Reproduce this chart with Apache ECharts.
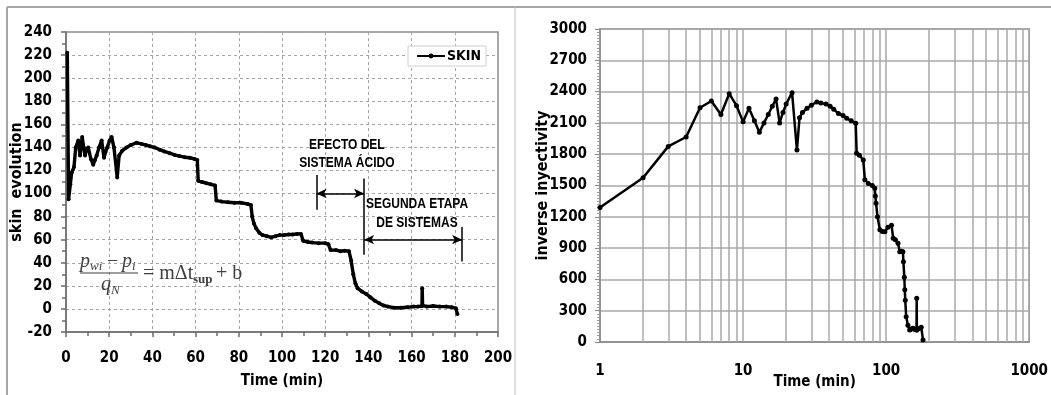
<!DOCTYPE html>
<html>
<head>
<meta charset="utf-8">
<script src="https://cdn.jsdelivr.net/npm/echarts@6/dist/echarts.min.js"></script>
<style>
  html, body { margin: 0; padding: 0; background: #ffffff; }
  #chart { width: 1051px; height: 395px; }
</style>
</head>
<body>
<div id="chart"></div>
<script>
// Skin evolution during the treatment (time in minutes)
const skinTime = [0.6, 1.2, 2, 2.6, 3.7, 4.5, 5.7, 6.5, 7.5, 8.2, 8.8, 9.5, 10.3, 11.5, 12.6, 13.4, 14.2, 15.3, 16.5, 17.6,
  18.3, 19.1, 20.2, 21.1, 22.2, 23.7, 24.6, 26, 28, 30, 32.6, 35, 37, 38.8, 41, 43.4, 45.5, 48, 50.3, 52.5,
  55, 57.3, 59.5, 60.8, 61.2, 63, 65, 67, 69, 69.6, 72, 75, 78, 81, 84, 85.6, 86.2, 87, 88, 89.5,
  91, 93, 95, 97, 99, 101, 103, 105, 107, 108.8, 109.8, 112, 114, 117, 120, 121.5, 122.5, 125, 127, 129,
  131, 132, 133, 134, 135, 137, 139, 141, 143, 145, 147, 149, 152, 155, 158, 161, 163, 164.8, 164.9, 165.1,
  167, 170, 173, 176, 178.5, 180.5, 181.2];
const skinValue = [222, 95, 108, 118, 123, 140, 146, 133, 149, 140, 133, 138, 140, 130, 125, 129, 133, 140, 146, 131,
  136, 140, 146, 149, 140, 114, 133, 137, 140, 142, 144, 143, 142, 141, 140, 138, 136.5, 135, 133.5, 132.5,
  131.5, 131, 130, 129, 111, 110, 109, 108, 107, 94, 93, 92.5, 92, 92, 91, 90, 80, 74, 70, 66,
  64, 63, 62, 63, 64, 64, 64.5, 64.5, 65, 65, 59, 58, 57.5, 57, 57, 56, 51, 51, 50, 50.5,
  50, 42, 30, 22, 18, 15, 13, 10, 7, 5, 3, 2, 1, 1, 1.5, 2, 2, 2.5, 18, 3,
  2, 2.5, 2, 2, 1.5, 0.5, -4.5];

// Inverse injectivity against time (log scale)
const injTime = [1, 2, 3, 4, 5, 6, 7, 8, 9, 10, 11, 12, 13, 14, 15, 16, 17, 18, 19, 20,
  22, 23.8, 24.8, 26, 28, 30, 32.8, 35, 38, 40.6, 43, 46.4, 50, 53, 57, 61.3, 62.2, 65, 69.2, 71,
  75, 80, 83.3, 84, 85, 87, 90.4, 94, 98, 103, 109, 112, 116, 121, 124.5, 128, 131, 132, 134, 135,
  136, 138, 142, 146, 150, 154, 159, 163, 163.5, 164, 170, 176, 181];
const injValue = [1290, 1575, 1875, 1965, 2245, 2310, 2180, 2380, 2265, 2110, 2240, 2120, 2010, 2100, 2180, 2260, 2330, 2100, 2200, 2280,
  2390, 1840, 2150, 2200, 2240, 2270, 2300, 2290, 2280, 2260, 2230, 2190, 2170, 2145, 2120, 2096, 1810, 1790, 1745, 1555,
  1520, 1500, 1473, 1400, 1330, 1200, 1075, 1060, 1057, 1100, 1120, 995, 980, 946, 866, 870, 866, 770, 620, 500,
  400, 243, 160, 115, 125, 131, 120, 115, 419, 115, 130, 141, 19];

// Intermediate decade lines of the logarithmic time axis
const logMinorLines = [2, 3, 4, 5, 6, 7, 8, 9, 20, 30, 40, 50, 60, 70, 80, 90, 200, 300, 400, 500, 600, 700, 800, 900];

const seriesName = 'SKIN';
const leftXName = 'Time (min)';
const leftYName = 'skin  evolution';
const rightXName = 'Time (min)';
const rightYName = 'inverse inyectivity';

// Treatment stage brackets: [x, yTop, yBottom] ticks and [x1, x2, y] arrows
const stageTicks = [[116, 116, 86], [138, 113, 47], [183.4, 71, 41]];
const stageArrows = [[116, 138, 100], [138, 183.4, 60]];
const stageLabels = [
  { text: 'EFECTO DEL', x: 130, y: 142 },
  { text: 'SISTEMA ÁCIDO', x: 130, y: 127 },
  { text: 'SEGUNDA ETAPA', x: 162.5, y: 91 },
  { text: 'DE SISTEMAS', x: 162.5, y: 75 }
];

const NARROW = "'DejaVu Sans Condensed', 'Liberation Sans', sans-serif";
const SANS = "'Liberation Sans', Arial, sans-serif";
const SERIF = "'Liberation Serif', 'DejaVu Serif', serif";

const skinData = skinTime.map((t, i) => [t, skinValue[i]]);
const injData = injTime.map((t, i) => [t, injValue[i]]);

const plain = v => String(v);
const tickLabel = { color: '#000', fontFamily: NARROW, fontWeight: 'bold', fontSize: 15, formatter: plain };
const axisNameStyle = { color: '#000', fontFamily: NARROW, fontWeight: 'bold', fontSize: 15 };

const chart = echarts.init(document.getElementById('chart'), null, { renderer: 'canvas' });

const option = {
  backgroundColor: '#ffffff',
  animation: false,
  grid: [
    { left: 66, top: 32, width: 432, height: 300, show: true, borderColor: '#8c8c8c', borderWidth: 1.5, backgroundColor: 'transparent' },
    { left: 600, top: 29, width: 432, height: 313, show: true, borderColor: '#8c8c8c', borderWidth: 1.5, backgroundColor: 'transparent' }
  ],
  legend: {
    data: [seriesName],
    left: 408, top: 46,
    backgroundColor: '#ffffff', borderColor: '#d0d0d0', borderWidth: 1,
    padding: [3, 5, 3, 8],
    itemWidth: 28, itemHeight: 6, itemGap: 2,
    textStyle: { fontFamily: NARROW, fontWeight: 'bold', fontSize: 14, color: '#000', padding: [0, 0, 0, -3] }
  },
  xAxis: [
    {
      type: 'value', gridIndex: 0, min: 0, max: 200, interval: 20,
      name: leftXName, nameLocation: 'middle', nameGap: 42, nameMoveOverlap: false, nameTextStyle: axisNameStyle,
      axisLine: { show: true, onZero: false, lineStyle: { color: '#6b6b6b', width: 1.5 } },
      axisTick: { show: true, length: 5, lineStyle: { color: '#6b6b6b', width: 1.5 } },
      minorTick: { show: true, splitNumber: 2, length: 4, lineStyle: { color: '#6b6b6b', width: 1.5 } },
      splitLine: { show: true, lineStyle: { color: '#a6a6a6', width: 1, type: [3, 3] } },
      axisLabel: Object.assign({ margin: 19 }, tickLabel)
    },
    {
      type: 'log', gridIndex: 1, logBase: 10, min: 1, max: 1000,
      name: rightXName, nameLocation: 'middle', nameGap: 33, nameMoveOverlap: false, nameTextStyle: axisNameStyle,
      axisLine: { show: true, onZero: false, lineStyle: { color: '#8c8c8c', width: 1.5 } },
      axisTick: { show: false },
      splitLine: { show: true, lineStyle: { color: '#a8a8a8', width: 1.5 } },
      axisLabel: Object.assign({ margin: 22 }, tickLabel)
    }
  ],
  yAxis: [
    {
      type: 'value', gridIndex: 0, min: -20, max: 240, interval: 20,
      name: leftYName, nameLocation: 'middle', nameGap: 41, nameMoveOverlap: false,
      nameTextStyle: Object.assign({}, axisNameStyle, { fontSize: 16 }),
      axisLine: { show: true, onZero: false, lineStyle: { color: '#6b6b6b', width: 1.5 } },
      axisTick: { show: true, length: 5, lineStyle: { color: '#6b6b6b', width: 1.5 } },
      minorTick: { show: true, splitNumber: 2, length: 4, lineStyle: { color: '#6b6b6b', width: 1.5 } },
      splitLine: { show: true, lineStyle: { color: '#a6a6a6', width: 1, type: [3, 3] } },
      axisLabel: Object.assign({ margin: 14 }, tickLabel)
    },
    {
      type: 'value', gridIndex: 1, min: 0, max: 3000, interval: 300,
      name: rightYName, nameLocation: 'middle', nameGap: 49, nameMoveOverlap: false,
      nameTextStyle: Object.assign({}, axisNameStyle, { fontSize: 16 }),
      axisLine: { show: true, onZero: false, lineStyle: { color: '#8c8c8c', width: 1.5 } },
      axisTick: { show: true, length: 5, lineStyle: { color: '#8c8c8c', width: 1.2 } },
      minorTick: { show: true, splitNumber: 10, length: 3, lineStyle: { color: '#9a9a9a', width: 1 } },
      splitLine: { show: true, lineStyle: { color: '#a8a8a8', width: 1.5 } },
      axisLabel: Object.assign({ margin: 13 }, tickLabel)
    }
  ],
  series: [
    {
      name: seriesName, type: 'line', xAxisIndex: 0, yAxisIndex: 0, z: 5,
      data: skinData,
      symbol: 'circle', symbolSize: 4, showSymbol: true,
      lineStyle: { color: '#000', width: 3.4 },
      itemStyle: { color: '#000' },
      markLine: {
        silent: true, symbol: 'none', label: { show: false },
        lineStyle: { color: '#000', width: 1.5, type: 'solid' },
        data: stageTicks.map(([x, y1, y2]) => [{ coord: [x, y1] }, { coord: [x, y2] }])
      }
    },
    {
      name: 'stageArrows', type: 'line', xAxisIndex: 0, yAxisIndex: 0, z: 6,
      data: [],
      markLine: {
        silent: true, symbol: ['arrow', 'arrow'], symbolSize: [7, 10], label: { show: false },
        lineStyle: { color: '#000', width: 1.5, type: 'solid' },
        data: stageArrows.map(([x1, x2, y]) => [{ coord: [x1, y] }, { coord: [x2, y] }])
      }
    },
    {
      name: 'logGrid', type: 'line', xAxisIndex: 1, yAxisIndex: 1, z: 1,
      data: [],
      markLine: {
        silent: true, symbol: 'none', label: { show: false },
        lineStyle: { color: '#a8a8a8', width: 1.5, type: 'solid' },
        data: logMinorLines.map(v => ({ xAxis: v }))
      }
    },
    {
      name: 'inverse inyectivity', type: 'line', xAxisIndex: 1, yAxisIndex: 1, z: 5,
      data: injData,
      symbol: 'circle', symbolSize: 5, showSymbol: true,
      lineStyle: { color: '#000', width: 2.5 },
      itemStyle: { color: '#000' }
    }
  ]
};

chart.setOption(option);

// Stage labels anchored to data coordinates of the skin plot, drawn condensed
const toPx = (x, y) => chart.convertToPixel({ xAxisIndex: 0, yAxisIndex: 0 }, [x, y]);
const graphics = stageLabels.map(l => {
  const p = toPx(l.x, l.y);
  return {
    type: 'text', x: p[0], y: p[1], scaleX: 0.8, z: 20,
    style: { text: l.text, fill: '#000', font: "bold 15px " + SANS, align: 'center', verticalAlign: 'middle' }
  };
});

// Linear model of the pressure response written inside the skin plot
const fColor = '#3f3f3f';
const serif = (size, italic) => (italic ? 'italic ' : '') + size + 'px ' + SERIF;
const fx = 80, fy = 273;
const formula = [
  { t: 'p', x: fx, y: fy - 11, f: serif(20, true) },
  { t: 'wi', x: fx + 10, y: fy - 6, f: serif(13, true) },
  { t: '−', x: fx + 27, y: fy - 11, f: serif(20, false) },
  { t: 'p', x: fx + 42, y: fy - 11, f: serif(20, true) },
  { t: 'i', x: fx + 52, y: fy - 6, f: serif(13, true) },
  { t: 'q', x: fx + 21, y: fy + 12, f: serif(20, true) },
  { t: 'N', x: fx + 31, y: fy + 18, f: serif(13, true) },
  { t: '= mΔt', x: fx + 63, y: fy + 1, f: serif(20, false) },
  { t: 'sup', x: fx + 113, y: fy + 7, f: 'bold 13px ' + SERIF },
  { t: '+ b', x: fx + 136, y: fy + 1, f: serif(20, false) }
];
formula.forEach(s => graphics.push({
  type: 'text', x: s.x, y: s.y, z: 20,
  style: { text: s.t, fill: fColor, font: s.f, align: 'left', verticalAlign: 'middle' }
}));
graphics.push({
  type: 'line', z: 20,
  shape: { x1: fx, y1: fy, x2: fx + 58, y2: fy },
  style: { stroke: fColor, lineWidth: 1.2 }
});

// Outer frame and panel divider
graphics.push(
  { type: 'line', z: 30, shape: { x1: 7, y1: 7, x2: 1051, y2: 7 }, style: { stroke: '#a6a6a6', lineWidth: 2 } },
  { type: 'line', z: 30, shape: { x1: 7, y1: 7, x2: 7, y2: 395 }, style: { stroke: '#a6a6a6', lineWidth: 2 } },
  { type: 'line', z: 30, shape: { x1: 515, y1: 7, x2: 515, y2: 395 }, style: { stroke: '#c0c0c0', lineWidth: 1 } }
);

chart.setOption({ graphic: graphics });
</script>
</body>
</html>
